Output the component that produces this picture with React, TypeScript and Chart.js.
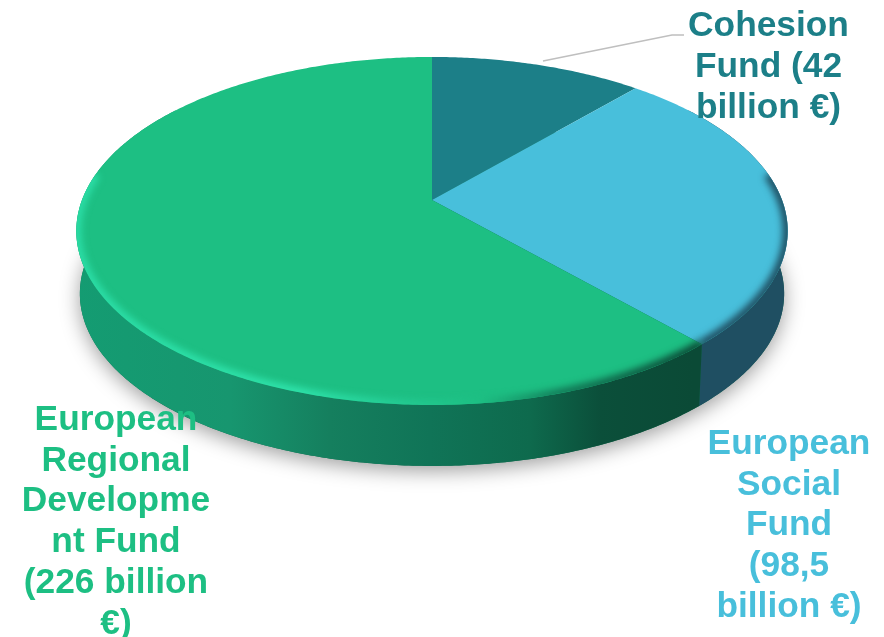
import React, { useEffect, useRef } from "react";
import { Chart, registerables } from "chart.js";

Chart.register(...registerables);

const categories = ["Cohesion Fund", "European Social Fund", "European Regional Development Fund"];
const billions = [42, 98.5, 226];
const faceColors = ["#1C7F88", "#48BFDB", "#1DBF83"];
const cohesionLines = ["Cohesion", "Fund (42", "billion €)"];
const socialLines = ["European", "Social", "Fund", "(98,5", "billion €)"];
const regionalLines = ["European", "Regional", "Developme", "nt Fund", "(226 billion", "€)"];

const CX = 432, CY = 200, R = 350, RY = 168.5, K = -0.178, DEPTH = 63;

function project(theta: number, drop = 0, shrink = 1) {
  const u = Math.sin(theta), v = -Math.cos(theta);
  const w = 1 + K * v;
  return { x: CX + (R * shrink * u) / w, y: CY + (RY * shrink * v) / w + drop };
}

function traceRim(ctx: CanvasRenderingContext2D, a: number, b: number, drop = 0, shrink = 1, move = false) {
  const n = Math.max(2, Math.ceil(Math.abs(b - a) / 0.01));
  for (let i = 0; i <= n; i++) {
    const p = project(a + ((b - a) * i) / n, drop, shrink);
    if (i === 0 && move) ctx.moveTo(p.x, p.y);
    else ctx.lineTo(p.x, p.y);
  }
}

function xGradient(ctx: CanvasRenderingContext2D, stops: [number, string][]) {
  const g = ctx.createLinearGradient(75, 0, 790, 0);
  stops.forEach(([x, c]) => g.addColorStop((x - 75) / 715, c));
  return g;
}

const piePlugin = {
  id: "perspectivePie",
  beforeDatasetsDraw(chart: any) {
    const ctx: CanvasRenderingContext2D = chart.ctx;
    const arcs = chart.getDatasetMeta(0).data;
    const range = arcs.map((a: any) => [a.startAngle + Math.PI / 2, a.endAngle + Math.PI / 2]);
    const split = range[1][1];

    // soft shadow under the disc
    ctx.save();
    ctx.shadowColor = "rgba(0,0,0,0.38)";
    ctx.shadowBlur = 20;
    ctx.shadowOffsetY = 5;
    ctx.fillStyle = "#0f6b4e";
    ctx.beginPath();
    traceRim(ctx, 0, Math.PI * 2, DEPTH, 0.99, true);
    ctx.closePath();
    ctx.fill();
    ctx.restore();

    // side walls
    const wall = (a: number, b: number, fill: any) => {
      ctx.beginPath();
      traceRim(ctx, a, b, 0, 1, true);
      traceRim(ctx, b, a, DEPTH, 0.99);
      ctx.closePath();
      ctx.fillStyle = fill;
      ctx.fill();
    };
    wall(Math.PI * 0.3, split, "#1F4F62");
    wall(split, Math.PI * 1.7, xGradient(ctx, [
      [75, "#149C72"], [230, "#17966F"], [330, "#157F5E"], [430, "#107457"],
      [530, "#0E6A4D"], [600, "#0B4F3A"], [693, "#0B4A36"],
    ]));

    // top faces
    const faces = () => {
      ctx.beginPath();
      traceRim(ctx, 0, Math.PI * 2, 0, 1, true);
      ctx.closePath();
    };
    arcs.forEach((arc: any, i: number) => {
      ctx.beginPath();
      ctx.moveTo(CX, CY);
      traceRim(ctx, range[i][0], range[i][1]);
      ctx.closePath();
      ctx.fillStyle = arc.options.backgroundColor;
      ctx.fill();
    });

    // bevel along the rim
    ctx.save();
    faces();
    ctx.clip();
    ctx.filter = "blur(3.5px)";
    ctx.lineWidth = 10;
    ctx.beginPath();
    traceRim(ctx, Math.PI * 0.45, split, 0, 1, true);
    ctx.strokeStyle = "#1F4F62";
    ctx.stroke();
    ctx.beginPath();
    traceRim(ctx, split, Math.PI * 1.55, 0, 1, true);
    ctx.strokeStyle = xGradient(ctx, [
      [75, "#2BDDA6"], [300, "#2FE3AB"], [400, "#24CB93"], [480, "#1DBF83"],
      [560, "#127A57"], [693, "#0B4A36"],
    ]);
    ctx.stroke();
    ctx.restore();
    return false;
  },
  afterDraw(chart: any) {
    const ctx: CanvasRenderingContext2D = chart.ctx;
    ctx.save();
    ctx.strokeStyle = "#BFBFBF";
    ctx.lineWidth = 1.5;
    ctx.beginPath();
    ctx.moveTo(543, 61);
    ctx.lineTo(672, 35);
    ctx.lineTo(684, 35);
    ctx.stroke();

    ctx.font = "bold 35.3px 'Liberation Sans', Arial, sans-serif";
    ctx.textAlign = "center";
    ctx.textBaseline = "middle";
    const block = (lines: string[], x: number, y: number, color: string) => {
      ctx.fillStyle = color;
      lines.forEach((line, i) => ctx.fillText(line, x, y + i * 40.8));
    };
    block(cohesionLines, 768.5, 26.5, faceColors[0]);
    block(socialLines, 789, 444, faceColors[1]);
    block(regionalLines, 116, 420, faceColors[2]);
    ctx.restore();
  },
};

export default function App() {
  const ref = useRef<HTMLCanvasElement>(null);
  useEffect(() => {
    const chart = new Chart(ref.current!, {
      type: "pie",
      data: {
        labels: categories,
        datasets: [{ data: billions, backgroundColor: faceColors, borderWidth: 0 }],
      },
      options: {
        responsive: false,
        animation: false,
        plugins: { legend: { display: false }, tooltip: { enabled: false } },
      },
      plugins: [piePlugin as any],
    });
    return () => chart.destroy();
  }, []);
  return (
    <canvas
      ref={ref}
      width={884}
      height={637}
      style={{ position: "fixed", left: 0, top: 0, width: 884, height: 637 }}
    />
  );
}
